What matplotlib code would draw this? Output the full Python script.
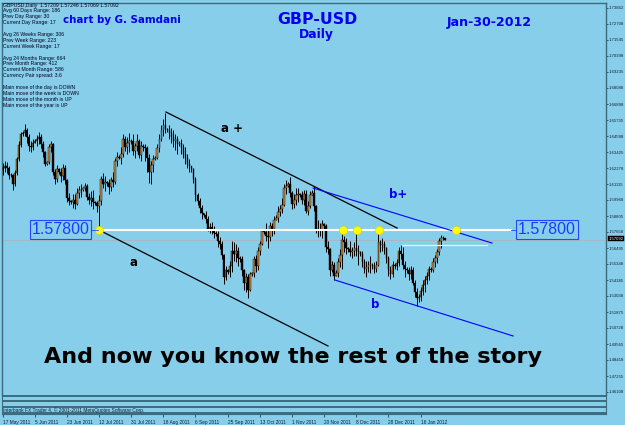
import matplotlib
matplotlib.use("Agg")
import matplotlib.pyplot as plt
import numpy as np

W, H = 625, 425
BG = "#87CEEB"

# ---------------- data (daily GBPUSD bars) ----------------
first_open = 1.6215
closes = [
    1.6228, 1.6245, 1.6225, 1.6180, 1.6175, 1.6115, 1.6190, 1.6290, 1.6395, 1.6470,
    1.6480, 1.6505, 1.6450, 1.6390, 1.6380, 1.6410, 1.6420, 1.6435, 1.6450, 1.6400,
    1.6340, 1.6260, 1.6270, 1.6380, 1.6400, 1.6200, 1.6150, 1.6220, 1.6200, 1.6170,
    1.6230, 1.6140, 1.6010, 1.5990, 1.5985, 1.6000, 1.5970, 1.6050, 1.6070, 1.6070,
    1.6080, 1.6100, 1.6020, 1.6000, 1.6010, 1.5985, 1.5975, 1.5950, 1.5990, 1.6150,
    1.6110, 1.6130, 1.6120, 1.6090, 1.6140, 1.6130, 1.6280, 1.6310, 1.6300, 1.6330,
    1.6440, 1.6380, 1.6410, 1.6425, 1.6420, 1.6350, 1.6390, 1.6420, 1.6320, 1.6390,
    1.6380, 1.6370, 1.6300, 1.6200, 1.6250, 1.6290, 1.6300, 1.6370, 1.6440, 1.6500,
    1.6540, 1.6510, 1.6505, 1.6480, 1.6450, 1.6420, 1.6440, 1.6400, 1.6410, 1.6380,
    1.6330, 1.6300, 1.6260, 1.6240, 1.6220, 1.6150, 1.6030, 1.5990, 1.5940, 1.5900,
    1.5890, 1.5860, 1.5790, 1.5800, 1.5790, 1.5760, 1.5750, 1.5700, 1.5680, 1.5600,
    1.5440, 1.5490, 1.5480, 1.5520, 1.5630, 1.5610, 1.5630, 1.5580, 1.5570, 1.5490,
    1.5400, 1.5440, 1.5350, 1.5460, 1.5470, 1.5570, 1.5520, 1.5630, 1.5680, 1.5770,
    1.5765, 1.5740, 1.5730, 1.5810, 1.5780, 1.5850, 1.5870, 1.5910, 1.5930, 1.5960,
    1.6080, 1.6100, 1.6110, 1.6050, 1.5970, 1.6000, 1.6030, 1.6040, 1.6035, 1.6000,
    1.6040, 1.5920, 1.5950, 1.6030, 1.6050, 1.5950, 1.5790, 1.5780, 1.5780, 1.5820,
    1.5810, 1.5660, 1.5640, 1.5490, 1.5530, 1.5450, 1.5470, 1.5550, 1.5600, 1.5710,
    1.5690, 1.5650, 1.5640, 1.5620, 1.5630, 1.5650, 1.5630, 1.5620, 1.5610, 1.5550,
    1.5500, 1.5510, 1.5530, 1.5530, 1.5520, 1.5500, 1.5530, 1.5690, 1.5670, 1.5680,
    1.5650, 1.5580, 1.5490, 1.5460, 1.5530, 1.5520, 1.5540, 1.5630, 1.5610, 1.5530,
    1.5500, 1.5490, 1.5460, 1.5490, 1.5400, 1.5330, 1.5290, 1.5300, 1.5340, 1.5380,
    1.5420, 1.5450, 1.5500, 1.5495, 1.5550, 1.5580, 1.5620, 1.5700, 1.5720, 1.57209,
    1.57092,
]
highs = [
    1.6262, 1.6280, 1.6268, 1.6240, 1.6190, 1.6185, 1.6210, 1.6310, 1.6420, 1.6490,
    1.6495, 1.6546, 1.6520, 1.6470, 1.6420, 1.6440, 1.6435, 1.6465, 1.6490, 1.6470,
    1.6420, 1.6350, 1.6280, 1.6400, 1.6420, 1.6410, 1.6220, 1.6250, 1.6225, 1.6230,
    1.6260, 1.6250, 1.6150, 1.6050, 1.6000, 1.6040, 1.6040, 1.6080, 1.6100, 1.6110,
    1.6090, 1.6120, 1.6110, 1.6050, 1.6060, 1.6070, 1.5990, 1.5990, 1.6030, 1.6170,
    1.6190, 1.6170, 1.6135, 1.6150, 1.6160, 1.6200, 1.6300, 1.6340, 1.6320, 1.6380,
    1.6475, 1.6460, 1.6450, 1.6480, 1.6440, 1.6470, 1.6410, 1.6470, 1.6440, 1.6420,
    1.6400, 1.6400, 1.6390, 1.6330, 1.6280, 1.6320, 1.6315, 1.6400, 1.6470, 1.6540,
    1.6580, 1.6625, 1.6520, 1.6540, 1.6520, 1.6500, 1.6470, 1.6460, 1.6420, 1.6440,
    1.6400, 1.6380, 1.6330, 1.6290, 1.6240, 1.6230, 1.6160, 1.6050, 1.6010, 1.5960,
    1.5905, 1.5920, 1.5880, 1.5830, 1.5840, 1.5810, 1.5770, 1.5770, 1.5730, 1.5700,
    1.5610, 1.5520, 1.5500, 1.5560, 1.5700, 1.5690, 1.5680, 1.5660, 1.5590, 1.5590,
    1.5500, 1.5470, 1.5460, 1.5480, 1.5480, 1.5590, 1.5600, 1.5660, 1.5700, 1.5790,
    1.5780, 1.5830, 1.5780, 1.5840, 1.5830, 1.5880, 1.5890, 1.5950, 1.5960, 1.6010,
    1.6110, 1.6140, 1.6130, 1.6165, 1.6060, 1.6040, 1.6080, 1.6080, 1.6050, 1.6060,
    1.6070, 1.6070, 1.5990, 1.6060, 1.6070, 1.6095, 1.5960, 1.5850, 1.5830, 1.5850,
    1.5830, 1.5820, 1.5700, 1.5650, 1.5560, 1.5550, 1.5490, 1.5580, 1.5640, 1.5780,
    1.5740, 1.5720, 1.5660, 1.5700, 1.5660, 1.5690, 1.5780, 1.5670, 1.5630, 1.5630,
    1.5570, 1.5560, 1.5560, 1.5590, 1.5540, 1.5550, 1.5560, 1.5780, 1.5710, 1.5720,
    1.5700, 1.5660, 1.5590, 1.5520, 1.5560, 1.5540, 1.5570, 1.5660, 1.5670, 1.5660,
    1.5560, 1.5510, 1.5510, 1.5520, 1.5510, 1.5420, 1.5360, 1.5320, 1.5370, 1.5420,
    1.5450, 1.5480, 1.5520, 1.5510, 1.5580, 1.5600, 1.5640, 1.5720, 1.5745, 1.5735,
    1.57246,
]
lows = [
    1.6175, 1.6200, 1.6190, 1.6150, 1.6160, 1.6070, 1.6100, 1.6180, 1.6280, 1.6380,
    1.6460, 1.6460, 1.6410, 1.6350, 1.6340, 1.6360, 1.6405, 1.6390, 1.6400, 1.6370,
    1.6310, 1.6240, 1.6250, 1.6260, 1.6340, 1.6180, 1.6110, 1.6130, 1.6185, 1.6130,
    1.6140, 1.6110, 1.5980, 1.5960, 1.5970, 1.5940, 1.5935, 1.5960, 1.6010, 1.6020,
    1.6065, 1.6060, 1.6000, 1.5970, 1.5950, 1.5930, 1.5960, 1.5910, 1.5780, 1.5960,
    1.6080, 1.6060, 1.6100, 1.6040, 1.6060, 1.6090, 1.6110, 1.6240, 1.6290, 1.6260,
    1.6310, 1.6350, 1.6330, 1.6340, 1.6400, 1.6320, 1.6300, 1.6350, 1.6300, 1.6280,
    1.6350, 1.6280, 1.6200, 1.6120, 1.6110, 1.6200, 1.6285, 1.6290, 1.6340, 1.6420,
    1.6460, 1.6480, 1.6490, 1.6440, 1.6410, 1.6380, 1.6360, 1.6330, 1.6390, 1.6330,
    1.6300, 1.6260, 1.6230, 1.6200, 1.6200, 1.6120, 1.5990, 1.5960, 1.5900, 1.5860,
    1.5875, 1.5830, 1.5770, 1.5760, 1.5750, 1.5720, 1.5740, 1.5660, 1.5640, 1.5570,
    1.5390, 1.5420, 1.5460, 1.5440, 1.5480, 1.5560, 1.5550, 1.5520, 1.5550, 1.5450,
    1.5350, 1.5330, 1.5290, 1.5340, 1.5450, 1.5440, 1.5480, 1.5490, 1.5600, 1.5670,
    1.5750, 1.5700, 1.5650, 1.5700, 1.5740, 1.5750, 1.5850, 1.5840, 1.5880, 1.5900,
    1.5950, 1.6040, 1.6090, 1.6020, 1.5930, 1.5940, 1.5960, 1.5980, 1.6020, 1.5970,
    1.5960, 1.5900, 1.5890, 1.5940, 1.6030, 1.5920, 1.5760, 1.5730, 1.5740, 1.5720,
    1.5790, 1.5620, 1.5610, 1.5450, 1.5480, 1.5420, 1.5450, 1.5440, 1.5510, 1.5500,
    1.5620, 1.5610, 1.5620, 1.5590, 1.5580, 1.5590, 1.5590, 1.5530, 1.5590, 1.5510,
    1.5470, 1.5440, 1.5480, 1.5470, 1.5500, 1.5470, 1.5480, 1.5520, 1.5620, 1.5630,
    1.5610, 1.5540, 1.5450, 1.5430, 1.5440, 1.5500, 1.5490, 1.5520, 1.5570, 1.5500,
    1.5440, 1.5470, 1.5420, 1.5430, 1.5380, 1.5300, 1.5230, 1.5260, 1.5270, 1.5310,
    1.5330, 1.5390, 1.5420, 1.5480, 1.5480, 1.5510, 1.5540, 1.5600, 1.5650, 1.5710,
    1.57069,
]

date_labels = ["17 May 2011", "5 Jun 2011", "23 Jun 2011", "12 Jul 2011", "31 Jul 2011",
               "18 Aug 2011", "6 Sep 2011", "25 Sep 2011", "13 Oct 2011", "1 Nov 2011",
               "20 Nov 2011", "8 Dec 2011", "28 Dec 2011", "16 Jan 2012"]
date_label_bars = [0, 16, 32, 48, 64, 80, 96, 112, 128, 144, 160, 176, 192, 208]

price_ticks = [1.73862, 1.72708, 1.71545, 1.70398, 1.69235, 1.68088, 1.66898, 1.65735,
               1.64588, 1.63425, 1.62278, 1.61115, 1.59968, 1.58805, 1.57658, 1.56495,
               1.55348, 1.54185, 1.53038, 1.51875, 1.50728, 1.49565, 1.48418, 1.47255,
               1.46108]
current_price = 1.57092
level = 1.578

# trend lines (bar index, price)
line_aplus_bars, line_aplus_prices = [81.3, 196.3], [1.6632, 1.5794]
line_a_bars, line_a_prices = [48, 161.9], [1.578, 1.4943]
line_bplus_bars, line_bplus_prices = [154.5, 243.5], [1.6083, 1.5686]
line_b_bars, line_b_prices = [165.4, 254.0], [1.5419, 1.5015]
level_line_bars = [48, 253]
short_line_bars, short_line_price = [198.8, 241.0], 1.5670
dot_bars = [48, 169.4, 176.4, 187.3, 225.6]

info_lines = [
    "GBPUSD,Daily  1.57209 1.57246 1.57069 1.57092",
    "Avg 60 Days Range: 186",
    "Prev Day Range: 30",
    "Current Day Range: 17",
    "",
    "Avg 26 Weeks Range: 306",
    "Prev Week Range: 223",
    "Current Week Range: 17",
    "",
    "Avg 24 Months Range: 664",
    "Prev Month Range: 412",
    "Current Month Range: 586",
    "Currency Pair spread: 3.6",
    "",
    "Main move of the day is DOWN",
    "Main move of the week is DOWN",
    "Main move of the month is UP",
    "Main move of the year is UP",
]

# ---------------- figure ----------------
fig = plt.figure(figsize=(W / 100, H / 100), dpi=100, facecolor=BG)

def fx(x):
    return x / W

def fy(y):
    return 1 - y / H

SMALL = "Liberation Sans"
L, R, T, B = 2, 606, 3, 395
ax = fig.add_axes([fx(L), fy(B), (R - L) / W, (B - T) / H])
ax.set_facecolor(BG)
XMIN, XMAX = -0.25, 300.2
YMIN, YMAX = 1.4589, 1.7419
ax.set_xlim(XMIN, XMAX)
ax.set_ylim(YMIN, YMAX)

n = len(closes)
idx = np.arange(n)
opens = np.array([first_open] + closes[:-1])
c = np.array(closes)
h = np.array(highs)
lo = np.array(lows)

ax.axhline(current_price, color="#aab6bd", lw=0.6, zorder=1)

ax.vlines(idx, lo, h, color="black", lw=0.7, zorder=3)
up = c >= opens
body_bot = np.minimum(opens, c)
body_h = np.maximum(np.abs(c - opens), 0.00025)
ax.bar(idx[up], body_h[up], bottom=body_bot[up], width=0.8, color="#C4893E",
       edgecolor="black", linewidth=0.3, zorder=4)
ax.bar(idx[~up], body_h[~up], bottom=body_bot[~up], width=0.8, color="black",
       edgecolor="black", linewidth=0.3, zorder=4)

# lines
ax.plot(level_line_bars, [level, level], color="white", lw=1.5, zorder=5)
ax.plot(short_line_bars, [short_line_price] * 2, color="#e6f4fa", lw=0.9, zorder=5)
ax.plot(line_aplus_bars, line_aplus_prices, color="black", lw=0.9, zorder=6)
ax.plot(line_a_bars, line_a_prices, color="black", lw=0.9, zorder=6)
ax.plot(line_bplus_bars, line_bplus_prices, color="#0000ff", lw=0.8, zorder=6)
ax.plot(line_b_bars, line_b_prices, color="#0000ff", lw=0.8, zorder=6)
ax.scatter(dot_bars, [level] * len(dot_bars), s=34, color="#ffff00",
           edgecolor="#e0d000", linewidth=0.4, zorder=7)

# axes style
for s in ["left", "top", "right"]:
    ax.spines[s].set_color("#3d6b7e")
    ax.spines[s].set_linewidth(1.0)
ax.spines["bottom"].set_visible(False)
ax.set_xticks([])
ax.yaxis.tick_right()
ax.set_yticks(price_ticks)
ax.set_yticklabels([f"{p:.5f}" for p in price_ticks], fontsize=3.1,
                   family=SMALL, color="#102030")
ax.tick_params(axis="y", length=1.5, width=0.5, pad=0.5, colors="#102030")

# current price tag
fig.text(fx(608.5), fy(238.5), f"{current_price:.5f}", fontsize=3.1, color="white",
         va="center", ha="left", family=SMALL,
         bbox=dict(boxstyle="square,pad=0.12", fc="black", ec="black", lw=0.3))

# level labels
for cx in (60.5, 547):
    fig.text(fx(cx), fy(229.5), f"{level:.5f}", fontsize=11.5, color="#1a3cff",
             ha="center", va="center", family="Liberation Sans",
             bbox=dict(boxstyle="square,pad=0.12", fc=BG, ec="#2846ff", lw=0.8))
fig.add_artist(plt.Line2D([fx(89), fx(98)], [fy(230), fy(230)], color="#2846ff", lw=0.6))
fig.add_artist(plt.Line2D([fx(511), fx(518)], [fy(230), fy(230)], color="#2846ff", lw=0.6))

# annotations
fig.text(fx(232), fy(129), "a +", fontsize=8.5, fontweight="bold", color="black",
         ha="center", va="center")
fig.text(fx(133), fy(263), "a", fontsize=8.5, fontweight="bold", color="black",
         ha="center", va="center")
fig.text(fx(398), fy(194), "b+", fontsize=8.5, fontweight="bold", color="#0000ee",
         ha="center", va="center")
fig.text(fx(375), fy(304), "b", fontsize=8.5, fontweight="bold", color="#0000ee",
         ha="center", va="center")

fig.text(fx(63), fy(20), "chart by G. Samdani", fontsize=7.4, fontweight="bold",
         color="#0000ee", ha="left", va="center")
fig.text(fx(317), fy(19), "GBP-USD", fontsize=11.3, fontweight="bold",
         color="#0000ee", ha="center", va="center")
fig.text(fx(316.5), fy(34.5), "Daily", fontsize=8.9, fontweight="bold",
         color="#0000ee", ha="center", va="center")
fig.text(fx(489), fy(22.5), "Jan-30-2012", fontsize=9.1, fontweight="bold",
         color="#0000ee", ha="center", va="center")

fig.text(fx(293), fy(357), "And now you know the rest of the story", fontsize=16,
         fontweight="bold", color="black", ha="center", va="center")

for k, line in enumerate(info_lines):
    if line:
        fig.text(fx(3), fy(5 + 5.9 * k), line, fontsize=3.7, color="#000018",
                 ha="left", va="center", family=SMALL)

# bottom strip (indicator windows) + date axis
ax2 = fig.add_axes([fx(L), fy(414), (R - L) / W, (414 - B) / H])
ax2.set_facecolor(BG)
ax2.set_xlim(XMIN, XMAX)
ax2.set_ylim(414, B)
for yy in (395.7, 401, 406.5, 412.5):
    ax2.axhline(yy, color="#3d6b7e", lw=1.4)
for s in ["left", "right"]:
    ax2.spines[s].set_color("#3d6b7e")
ax2.spines["top"].set_visible(False)
ax2.spines["bottom"].set_color("#3d6b7e")
ax2.set_yticks([])
ax2.set_xticks(date_label_bars)
ax2.set_xticklabels(date_labels, fontsize=3.4, ha="left", color="#102030",
                    family=SMALL)
ax2.tick_params(axis="x", length=2.5, width=0.5, pad=1.5, colors="#102030")
fig.text(fx(3), fy(410.5), "Interbank FX Trader 4, \u00a9 2001-2011 MetaQuotes Software Corp.",
         fontsize=3.5, color="#102030", ha="left", va="center", family=SMALL)

fig.savefig("out.png", dpi=100, facecolor=BG)
